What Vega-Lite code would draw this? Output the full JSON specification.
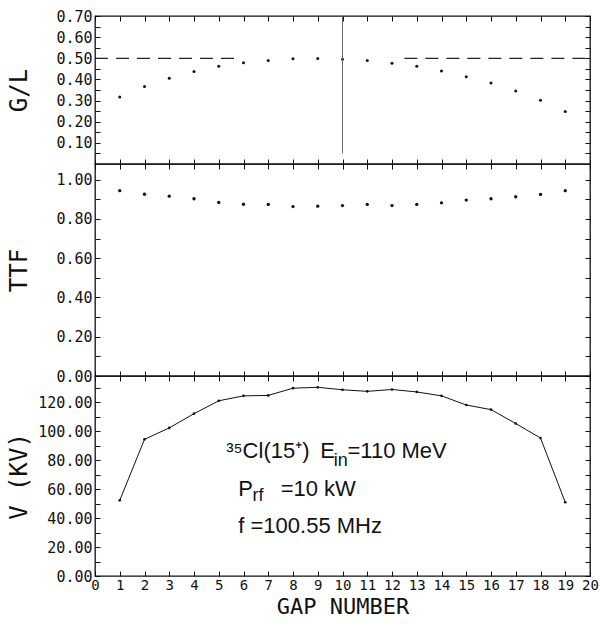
{
  "$schema": "https://vega.github.io/schema/vega-lite/v6.json",
  "background": "white",
  "padding": {"left": 6, "top": 8, "right": 0, "bottom": 2},
  "bounds": "flush",
  "spacing": 0,
  "config": {
    "view": {"stroke": "#111", "strokeWidth": 1.3},
    "axis": {
      "domain": false, "grid": false,
      "labelFont": "DejaVu Sans Mono", "labelFontSize": 15, "labelColor": "#111",
      "tickColor": "#111", "tickSize": -5, "tickWidth": 1,
      "labelPadding": 8, "labelOverlap": false, "labelFlush": false,
      "titleFont": "DejaVu Sans Mono", "titleFontSize": 24, "titleFontWeight": "normal", "titleColor": "#111"
    },
    "axisLeft": {"minExtent": 56, "maxExtent": 56, "titlePadding": 8},
    "axisRight": {"minExtent": 0, "maxExtent": 0},
    "axisTop": {"minExtent": 0, "maxExtent": 0}
  },
  "datasets": {
    "gaps": [
      {"gap": 1, "gl": 0.317, "ttf": 0.944, "v": 52.2},
      {"gap": 2, "gl": 0.367, "ttf": 0.926, "v": 94.3},
      {"gap": 3, "gl": 0.405, "ttf": 0.916, "v": 102.2},
      {"gap": 4, "gl": 0.438, "ttf": 0.903, "v": 112.0},
      {"gap": 5, "gl": 0.462, "ttf": 0.884, "v": 120.9},
      {"gap": 6, "gl": 0.479, "ttf": 0.875, "v": 124.3},
      {"gap": 7, "gl": 0.490, "ttf": 0.874, "v": 124.6},
      {"gap": 8, "gl": 0.498, "ttf": 0.863, "v": 129.6},
      {"gap": 9, "gl": 0.499, "ttf": 0.865, "v": 130.2},
      {"gap": 10, "gl": 0.496, "ttf": 0.868, "v": 128.5},
      {"gap": 11, "gl": 0.490, "ttf": 0.874, "v": 127.4},
      {"gap": 12, "gl": 0.477, "ttf": 0.868, "v": 128.7},
      {"gap": 13, "gl": 0.462, "ttf": 0.874, "v": 127.0},
      {"gap": 14, "gl": 0.440, "ttf": 0.882, "v": 124.3},
      {"gap": 15, "gl": 0.413, "ttf": 0.896, "v": 118.0},
      {"gap": 16, "gl": 0.383, "ttf": 0.903, "v": 114.8},
      {"gap": 17, "gl": 0.345, "ttf": 0.913, "v": 105.2},
      {"gap": 18, "gl": 0.301, "ttf": 0.925, "v": 95.2},
      {"gap": 19, "gl": 0.248, "ttf": 0.944, "v": 50.9}
    ],
    "dash": [
      {"x": 0, "x2": 5.8, "y": 0.5},
      {"x": 12.5, "x2": 20, "y": 0.5}
    ],
    "vline": [
      {"x": 10, "y": 0.05, "y2": 0.7}
    ],
    "notes": [
      {"x": 5.3, "y": 86, "t": "³⁵Cl(15⁺)"},
      {"x": 9.1, "y": 86, "t": "E"},
      {"x": 10.2, "y": 86, "t": "=110 MeV"},
      {"x": 5.79, "y": 60, "t": "P"},
      {"x": 7.5, "y": 60, "t": "=10 kW"},
      {"x": 5.79, "y": 34.8, "t": "f =100.55 MHz"}
    ],
    "subs": [
      {"x": 9.65, "y": 79.5, "t": "in"},
      {"x": 6.36, "y": 55.5, "t": "rf"}
    ]
  },
  "vconcat": [
    {
      "width": 495, "height": 148,
      "resolve": {"axis": {"x": "independent", "y": "independent"}},
      "layer": [
        {
          "data": {"name": "gaps"},
          "mark": {"type": "point", "filled": true, "size": 9, "color": "#111", "opacity": 1},
          "encoding": {
            "x": {"field": "gap", "type": "quantitative", "scale": {"domain": [0, 20], "nice": false},
                  "axis": {"orient": "bottom", "labels": false, "title": null, "values": [0,1,2,3,4,5,6,7,8,9,10,11,12,13,14,15,16,17,18,19,20]}},
            "y": {"field": "gl", "type": "quantitative", "scale": {"domain": [0, 0.7], "nice": false},
                  "axis": {"title": "G/L", "values": [0.05,0.1,0.15,0.2,0.25,0.3,0.35,0.4,0.45,0.5,0.55,0.6,0.65,0.7],
                           "labelExpr": "round(datum.value*100) % 10 == 0 ? format(datum.value, '.2f') : ''"}}
          }
        },
        {
          "data": {"name": "dash"},
          "mark": {"type": "rule", "color": "#222", "strokeWidth": 1.2, "strokeDash": [13, 8]},
          "encoding": {
            "x": {"field": "x", "type": "quantitative", "scale": {"domain": [0, 20], "nice": false}, "axis": null},
            "x2": {"field": "x2"},
            "y": {"field": "y", "type": "quantitative", "scale": {"domain": [0, 0.7], "nice": false}, "axis": null}
          }
        },
        {
          "data": {"name": "vline"},
          "mark": {"type": "rule", "color": "#666", "strokeWidth": 1},
          "encoding": {
            "x": {"field": "x", "type": "quantitative", "scale": {"domain": [0, 20], "nice": false}, "axis": null},
            "y": {"field": "y", "type": "quantitative", "scale": {"domain": [0, 0.7], "nice": false}, "axis": null},
            "y2": {"field": "y2"}
          }
        },
        {
          "data": {"name": "gaps"},
          "mark": {"type": "point", "opacity": 0},
          "encoding": {
            "x": {"field": "gap", "type": "quantitative", "scale": {"domain": [0, 20], "nice": false},
                  "axis": {"orient": "top", "labels": false, "title": null, "values": [0,1,2,3,4,5,6,7,8,9,10,11,12,13,14,15,16,17,18,19,20]}},
            "y": {"field": "gl", "type": "quantitative", "scale": {"domain": [0, 0.7], "nice": false},
                  "axis": {"orient": "right", "labels": false, "title": null, "values": [0.05,0.1,0.15,0.2,0.25,0.3,0.35,0.4,0.45,0.5,0.55,0.6,0.65,0.7]}}
          }
        }
      ]
    },
    {
      "width": 495, "height": 212,
      "resolve": {"axis": {"x": "independent", "y": "independent"}},
      "layer": [
        {
          "data": {"name": "gaps"},
          "mark": {"type": "point", "filled": true, "size": 11, "color": "#111", "opacity": 1},
          "encoding": {
            "x": {"field": "gap", "type": "quantitative", "scale": {"domain": [0, 20], "nice": false},
                  "axis": {"orient": "bottom", "labels": false, "title": null, "values": [0,1,2,3,4,5,6,7,8,9,10,11,12,13,14,15,16,17,18,19,20]}},
            "y": {"field": "ttf", "type": "quantitative", "scale": {"domain": [0, 1.08], "nice": false},
                  "axis": {"title": "TTF", "values": [0,0.1,0.2,0.3,0.4,0.5,0.6,0.7,0.8,0.9,1.0],
                           "labelExpr": "round(datum.value*100) % 20 == 0 ? format(datum.value, '.2f') : ''"}}
          }
        },
        {
          "data": {"name": "gaps"},
          "mark": {"type": "point", "opacity": 0},
          "encoding": {
            "x": {"field": "gap", "type": "quantitative", "scale": {"domain": [0, 20], "nice": false},
                  "axis": {"orient": "top", "labels": false, "title": null, "values": [0,1,2,3,4,5,6,7,8,9,10,11,12,13,14,15,16,17,18,19,20]}},
            "y": {"field": "ttf", "type": "quantitative", "scale": {"domain": [0, 1.08], "nice": false},
                  "axis": {"orient": "right", "labels": false, "title": null, "values": [0,0.1,0.2,0.3,0.4,0.5,0.6,0.7,0.8,0.9,1.0]}}
          }
        }
      ]
    },
    {
      "width": 495, "height": 200,
      "resolve": {"axis": {"x": "independent", "y": "independent"}},
      "layer": [
        {
          "data": {"name": "gaps"},
          "mark": {"type": "line", "color": "#111", "strokeWidth": 1, "point": {"filled": true, "size": 7, "color": "#111"}},
          "encoding": {
            "x": {"field": "gap", "type": "quantitative", "scale": {"domain": [0, 20], "nice": false},
                  "axis": {"orient": "bottom", "title": "GAP NUMBER", "titleFontSize": 22, "titlePadding": 4, "labelPadding": 7, "labelFontSize": 14, "format": "d", "values": [0,1,2,3,4,5,6,7,8,9,10,11,12,13,14,15,16,17,18,19,20]}},
            "y": {"field": "v", "type": "quantitative", "scale": {"domain": [0, 138], "nice": false},
                  "axis": {"title": "V (KV)", "values": [0,10,20,30,40,50,60,70,80,90,100,110,120,130],
                           "labelExpr": "round(datum.value) % 20 == 0 ? format(datum.value, '.2f') : ''"}}
          }
        },
        {
          "data": {"name": "notes"},
          "mark": {"type": "text", "align": "left", "baseline": "middle", "font": "Liberation Sans", "fontSize": 22, "color": "#111"},
          "encoding": {
            "x": {"field": "x", "type": "quantitative", "scale": {"domain": [0, 20], "nice": false}, "axis": null},
            "y": {"field": "y", "type": "quantitative", "scale": {"domain": [0, 138], "nice": false}, "axis": null},
            "text": {"field": "t"}
          }
        },
        {
          "data": {"name": "subs"},
          "mark": {"type": "text", "align": "left", "baseline": "middle", "font": "Liberation Sans", "fontSize": 18, "color": "#111"},
          "encoding": {
            "x": {"field": "x", "type": "quantitative", "scale": {"domain": [0, 20], "nice": false}, "axis": null},
            "y": {"field": "y", "type": "quantitative", "scale": {"domain": [0, 138], "nice": false}, "axis": null},
            "text": {"field": "t"}
          }
        },
        {
          "data": {"name": "gaps"},
          "mark": {"type": "point", "opacity": 0},
          "encoding": {
            "x": {"field": "gap", "type": "quantitative", "scale": {"domain": [0, 20], "nice": false},
                  "axis": {"orient": "top", "labels": false, "title": null, "values": [0,1,2,3,4,5,6,7,8,9,10,11,12,13,14,15,16,17,18,19,20]}},
            "y": {"field": "v", "type": "quantitative", "scale": {"domain": [0, 138], "nice": false},
                  "axis": {"orient": "right", "labels": false, "title": null, "values": [0,10,20,30,40,50,60,70,80,90,100,110,120,130]}}
          }
        }
      ]
    }
  ]
}
